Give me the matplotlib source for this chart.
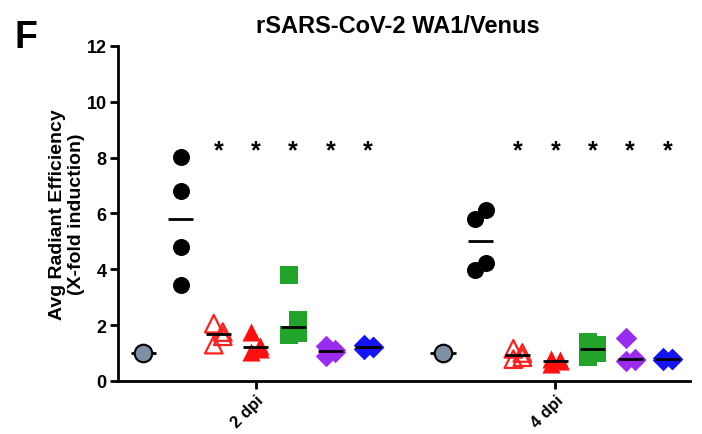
import numpy as np
import matplotlib
matplotlib.use("Agg")
from matplotlib import pyplot as plt

plt.rcParams["font.family"] = ["Liberation Sans", "DejaVu Sans"]
plt.rcParams["font.weight"] = "bold"

DAYS = ["2 dpi", "4 dpi"]

# values per group, per day (4 mice each)
MOCK = [[1.0], [1.0]]
VIRUS = [[8.02, 6.82, 4.81, 3.45], [6.13, 5.81, 4.22, 3.96]]
OPEN_TRI = [[2.05, 1.75, 1.6, 1.3], [1.15, 1.0, 0.85, 0.78]]
TRI = [[1.75, 1.25, 1.15, 1.05], [0.8, 0.75, 0.7, 0.6]]
SQUARE = [[3.8, 2.2, 1.7, 1.65], [1.4, 1.3, 1.0, 0.85]]
DIAMOND = [[1.25, 1.1, 1.05, 0.9], [1.55, 0.8, 0.75, 0.72]]
BLUE_DIAMOND = [[1.3, 1.22, 1.2, 1.15], [0.82, 0.8, 0.78, 0.75]]
STAR_LEVEL = 8.25

series = [MOCK, VIRUS, OPEN_TRI, TRI, SQUARE, DIAMOND, BLUE_DIAMOND]
styles = [
    dict(marker="o", facecolor="#7d8fa3", edgecolor="black", s=160, lw=1.5),
    dict(marker="o", facecolor="black", edgecolor="black", s=150, lw=0),
    dict(marker="^", facecolor="none", edgecolor="#ff2020", s=160, lw=1.6),
    dict(marker="^", facecolor="#ff1010", edgecolor="#ff1010", s=170, lw=0),
    dict(marker="s", facecolor="#22a32a", edgecolor="#22a32a", s=160, lw=0),
    dict(marker="D", facecolor="#9a2bf0", edgecolor="#9a2bf0", s=120, lw=0),
    dict(marker="D", facecolor="#1414f5", edgecolor="#1414f5", s=120, lw=0),
]
# small horizontal scatter offsets (data units) so overlapping points show
jitter = {
    (0, 1): [0, 0, 0, 0],
    (1, 1): [0.018, -0.018, 0.018, -0.018],
}
default_jitter = [-0.015, 0.015, 0.015, -0.015]
step = 0.125

fig = plt.figure(figsize=(7.02, 4.35), dpi=100)
ax = fig.add_axes([0.168, 0.122, 0.815, 0.770])

for d in range(len(DAYS)):
    for g, (vals, st) in enumerate(zip(series, styles)):
        v = np.array(vals[d])
        xc = d + (g - 3) * step
        if len(v) > 1:
            xs = xc + np.array(jitter.get((d, g), default_jitter))
        else:
            xs = np.array([xc])
        ax.scatter(xs, v, marker=st["marker"], facecolors=st["facecolor"],
                   edgecolors=st["edgecolor"], s=st["s"], linewidths=st["lw"],
                   zorder=3)
        med = np.median(v)
        ax.plot([xc - 0.042, xc + 0.042], [med, med], color="black", lw=2,
                zorder=4 if g > 1 else 2, solid_capstyle="butt")
        if g >= 2:
            ax.text(xc, STAR_LEVEL, "*", ha="center", va="center",
                    fontsize=18, fontweight="bold")

ax.set_xlim(-0.46, 1.45)
ax.set_ylim(0, 12)
ax.set_yticks(range(0, 13, 2))
ax.set_xticks(range(len(DAYS)))
ax.set_xticklabels(DAYS, rotation=45, ha="right", rotation_mode="anchor",
                   fontsize=12, fontweight="bold")
for lab in ax.get_yticklabels():
    lab.set_fontweight("bold")
    lab.set_fontsize(13)
ax.tick_params(width=2, length=6, direction="out", pad=2)
for sp in ["top", "right"]:
    ax.spines[sp].set_visible(False)
for sp in ["left", "bottom"]:
    ax.spines[sp].set_linewidth(2)

ax.set_ylabel("Avg Radiant Efficiency\n(X-fold induction)", fontsize=14,
              fontweight="bold", labelpad=1, linespacing=1.2)
fig.text(0.567, 0.94, "rSARS-CoV-2 WA1/Venus", ha="center", va="center",
         fontsize=17, fontweight="bold")
fig.text(0.02, 0.913, "F", ha="left", va="center", fontsize=27,
         fontweight="bold")

fig.savefig("out.png", dpi=100)
